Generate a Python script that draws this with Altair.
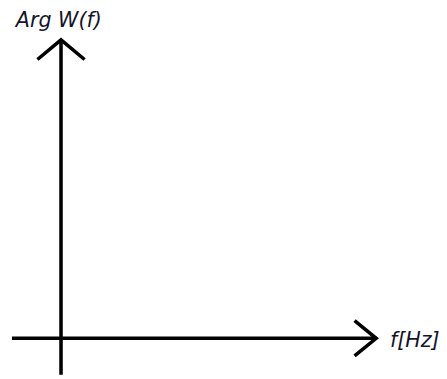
import altair as alt
import pandas as pd

# Diagram content: two axes with arrowheads (coordinates in a pixel-like data space,
# origin at the axes crossing)
seg_id = ["v", "v", "h", "h", "va", "va", "va", "ha", "ha", "ha"]
seg_order = [0, 1, 0, 1, 0, 1, 2, 0, 1, 2]
seg_x = [0, 0, -50, 321, -24, 0, 24, 299, 321, 299]
seg_y = [-37, 304, 0, 0, 284, 304, 284, 18, 0, -18]

label_text = ["Arg W(f)", "f[Hz]"]
label_x = [-46, 335]
label_y = [317, -9]

lines = pd.DataFrame({"seg": seg_id, "o": seg_order, "x": seg_x, "y": seg_y})
labels = pd.DataFrame({"t": label_text, "x": label_x, "y": label_y})

xs = alt.Scale(domain=[-54, 377], nice=False, zero=False)
ys = alt.Scale(domain=[-30, 333], nice=False, zero=False)

line_layer = alt.Chart(lines).mark_line(
    color="black", strokeWidth=3.6, strokeCap="butt", strokeJoin="miter"
).encode(
    x=alt.X("x:Q", scale=xs, axis=None),
    y=alt.Y("y:Q", scale=ys, axis=None),
    detail="seg:N",
    order="o:Q",
)

text_layer = alt.Chart(labels).mark_text(
    align="left", baseline="alphabetic", font="DejaVu Sans", fontSize=21,
    fontStyle="italic", color="#14142a"
).encode(
    x=alt.X("x:Q", scale=xs, axis=None),
    y=alt.Y("y:Q", scale=ys, axis=None),
    text="t:N",
)

chart = alt.layer(line_layer, text_layer).properties(
    width=431, height=363,
    autosize=alt.AutoSizeParams(type="none"),
    padding={"left": 0, "top": 0, "right": 8, "bottom": 8},
    background="white",
).configure_view(stroke=None)

chart.save("out.html", embed_options={"renderer": "svg", "actions": False})
